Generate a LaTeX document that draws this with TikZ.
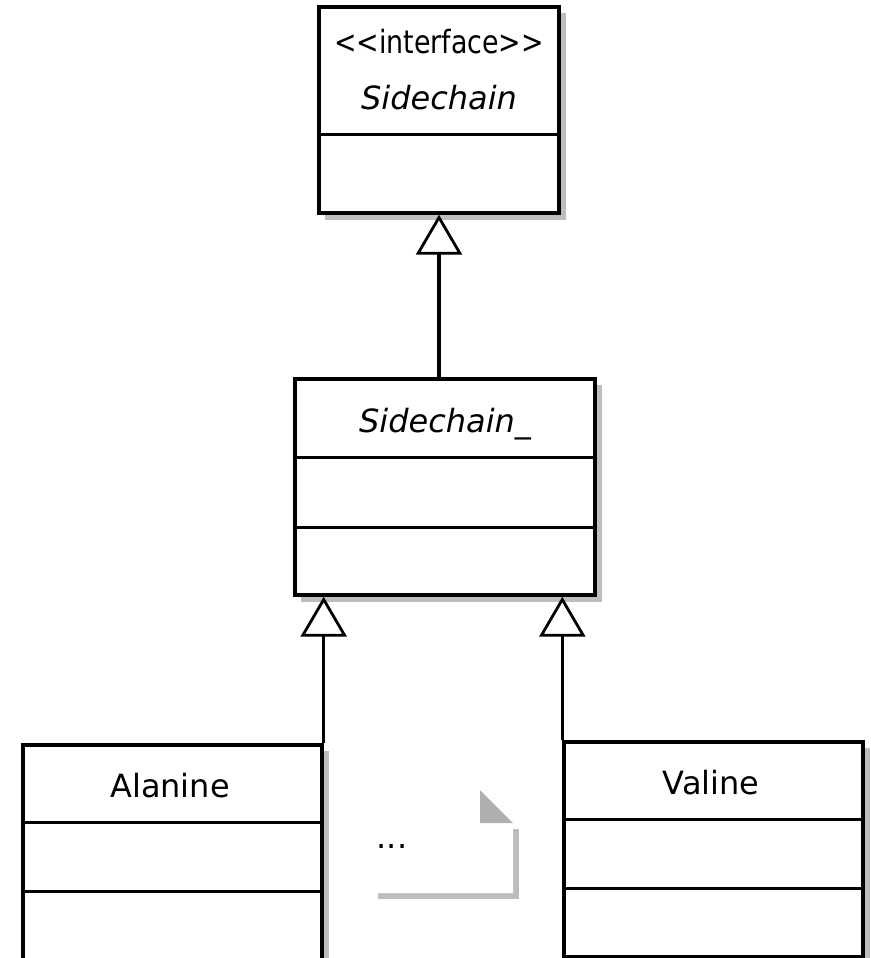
\documentclass[tikz,border=0pt]{standalone}
\usepackage{fontspec}
\setmainfont{DejaVu Sans}
\usetikzlibrary{arrows.meta,calc}
\begin{document}
\begin{tikzpicture}[x=1pt,y=-1pt,
  box/.style={draw=black, line width=3.4pt, fill=white, inner sep=0pt},
  shadowc/.style={fill=black!26},
  divider/.style={draw=black, line width=3.4pt},
  lbl/.style={font=\fontsize{32}{38}\selectfont, inner sep=0pt, anchor=base},
  gen/.style={-{Triangle[fill=white,length=40pt,width=46pt,line width=2.8pt]}, line width=3.4pt},
]
\useasboundingbox (0,0) rectangle (870,958);
\clip (0,0) rectangle (870,958);

% shadows
\fill[shadowc] (325,13) rectangle (566,220);
\fill[shadowc] (301,385) rectangle (602,602);
\fill[shadowc] (29,751) rectangle (329,996);
\fill[shadowc] (570,748) rectangle (870,963);
\fill[shadowc] (378,829) rectangle (519,899);

% interface box
\node[box, minimum width=240pt, minimum height=206pt] (iface) at (439,110) {};
\draw[divider] ([yshift=-129pt]iface.north west) -- ([yshift=-129pt]iface.north east);
\node[lbl] (st) at (439,54) {\scalebox{0.84}[1]{<\kern0pt<interface>\kern0pt>}};
\node[lbl, font=\fontsize{32}{38}\selectfont\itshape] (ifn) at (439,109) {Sidechain};

% abstract class
\node[box, minimum width=300pt, minimum height=216pt] (mid) at (445,487) {};
\draw[divider] ([yshift=-80pt]mid.north west) -- ([yshift=-80pt]mid.north east);
\draw[divider] ([yshift=-150pt]mid.north west) -- ([yshift=-150pt]mid.north east);
\node[lbl, font=\fontsize{32}{38}\selectfont\itshape] (midn) at (445,432) {Sidechain\_};

% Alanine
\node[box, minimum width=299pt, minimum height=245pt] (ala) at (172.5,867.5) {};
\draw[divider] ([yshift=-79pt]ala.north west) -- ([yshift=-79pt]ala.north east);
\draw[divider] ([yshift=-148pt]ala.north west) -- ([yshift=-148pt]ala.north east);
\node[lbl] (alan) at (170,797) {Alanine};

% Valine
\node[box, minimum width=299pt, minimum height=215pt] (val) at (713.5,849.5) {};
\draw[divider] ([yshift=-79pt]val.north west) -- ([yshift=-79pt]val.north east);
\draw[divider] ([yshift=-148pt]val.north west) -- ([yshift=-148pt]val.north east);
\node[lbl] (valn) at (711,794) {Valine};

% note
\fill[white] (372,790) -- (480,790) -- (513,823) -- (513,893) -- (372,893) -- cycle;
\fill[black!31] (480,790) -- (480,823) -- (513,823) -- cycle;
\node[lbl] (dots) at (392,848) {...};

% generalizations
\draw[gen] (iface.south |- mid.north) -- (iface.south);
\draw[gen] (ala.north east) -- (ala.north east |- mid.south);
\draw[gen] (val.north west) -- (val.north west |- mid.south);
\end{tikzpicture}
\end{document}
